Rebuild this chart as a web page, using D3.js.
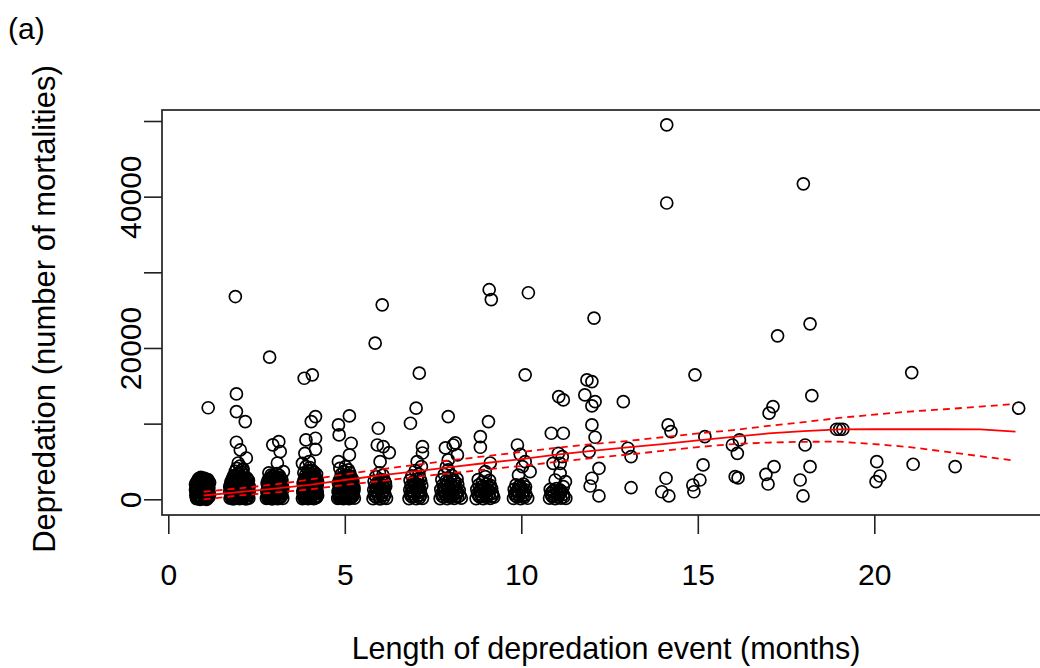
<!DOCTYPE html>
<html>
<head>
<meta charset="utf-8">
<script src="https://cdn.jsdelivr.net/npm/d3@7"></script>
<style>
  body { margin: 0; background: #fff; }
  text { font-family: "Liberation Sans", Arial, sans-serif; fill: #000; }
</style>
</head>
<body>
<svg id="chart" width="1040" height="668"></svg>
<script>
// events of 1-5 months: [length (jittered), mortalities]
var shortEvents = [
  [0.80,100],[0.88,250],[0.96,80],[1.04,200],[1.11,120],[0.84,600],[0.92,450],[1.00,700],[1.08,520],[0.79,900],
  [0.87,1050],[0.95,850],[1.03,1150],[1.10,950],[0.82,1400],[0.90,1600],[0.98,1300],[1.06,1550],[1.12,1450],[0.85,1950],
  [0.93,2100],[1.01,1850],[1.09,2050],[0.81,2300],[0.89,2600],[0.97,2450],[1.05,2700],[0.92,2900],[1.00,2800],[1.08,2550],
  [0.86,2750],[1.13,12100],
  [0.84,350],[1.00,380],[1.08,300],[0.92,800],[1.02,1300],[0.86,1200],[0.96,1750],[1.12,1800],[0.83,2050],[1.04,2350],
  [0.95,2650],[1.11,2300],[0.79,1650],[0.90,0],[1.08,0],
  [0.82,180],[0.94,150],[1.06,120],[0.88,550],[0.99,580],[1.12,650],[0.83,1000],[0.99,1000],[1.08,1200],[0.88,1350],
  [0.94,1450],[1.10,1650],[0.89,1800],[1.06,1900],[0.91,2300],[0.99,2150],[1.12,2600],[0.84,2500],[0.98,2700],[1.13,2100],
  [1.15,900],[0.78,500],[1.15,1500],[1.15,300],[1.17,2200],[1.17,600],[0.77,1250],[0.77,2000],
  [1.75,150],[1.84,60],[1.93,220],[2.02,90],[2.11,180],[2.20,50],[2.28,140],[1.78,600],[1.88,450],[1.97,700],
  [2.06,520],[2.15,650],[2.25,480],[1.74,1000],[1.83,1150],[1.92,900],[2.01,1100],[2.10,950],[2.19,1200],[2.29,1000],
  [1.79,1550],[1.89,1400],[1.98,1650],[2.07,1500],[2.16,1600],[2.26,1450],[1.76,2000],[1.86,2150],[1.95,1900],[2.04,2100],
  [2.13,2000],[2.23,2200],[1.81,2600],[1.91,2500],[2.00,2750],[2.09,2550],[2.18,2650],[2.27,2500],[1.85,3100],[1.96,3300],
  [2.05,3000],[2.14,3200],[1.90,3700],[2.08,3600],[1.94,4100],[2.03,4400],[2.12,4000],[1.98,4800],[2.21,5460],[2.04,6520],
  [1.93,7540],[2.18,10270],[1.93,11590],[1.93,13930],[1.90,26800],
  [1.80,300],[1.98,350],[2.16,330],[2.24,800],[1.86,800],[2.05,800],[1.78,1300],[1.96,1300],[2.14,1350],[1.84,1800],
  [2.02,1800],[2.20,1800],[1.78,2350],[1.96,2350],[2.14,2350],[2.22,2850],[1.92,2950],[1.99,3500],[2.10,3900],
  [1.79,200],[1.89,150],[2.07,150],[2.24,200],[1.83,550],[2.01,600],[2.20,600],[1.79,850],[1.97,1000],[2.15,1000],
  [1.88,1250],[2.06,1250],[2.24,1250],[1.74,1650],[1.93,1650],[2.11,1700],[2.29,1700],[1.81,2050],[2.00,2000],[2.18,2100],
  [1.87,2400],[2.06,2400],[2.24,2650],[1.83,2850],[2.03,2950],[2.12,2800],
  [2.78,120],[2.86,300],[2.94,60],[3.02,220],[3.10,90],[3.18,250],[3.24,110],[2.81,650],[2.90,500],[2.98,800],
  [3.06,580],[3.14,720],[3.22,540],[2.79,1100],[2.87,950],[2.96,1250],[3.04,1000],[3.12,1200],[3.21,1050],[2.83,1600],
  [2.92,1450],[3.00,1700],[3.08,1500],[3.16,1650],[3.24,1550],[2.80,2100],[2.89,2250],[2.97,2000],[3.05,2200],[3.13,2100],
  [3.20,2300],[2.85,2700],[2.94,2550],[3.02,2850],[3.10,2650],[3.18,2800],[2.91,3200],[3.07,3400],[2.95,2990],[3.26,3650],
  [3.09,4800],[3.17,6300],[2.96,7200],[3.13,7620],[2.87,18790],
  [2.82,350],[3.00,400],[3.16,380],[2.86,850],[3.04,850],[3.20,800],[2.84,1350],[3.02,1300],[3.18,1350],[2.88,1900],
  [3.06,1850],[3.22,1900],[2.82,2450],[3.00,2400],[3.16,2450],[2.98,3100],[3.14,3150],[2.85,3500],
  [2.82,200],[2.98,150],[3.14,200],[2.92,650],[3.10,600],[2.81,850],[2.96,1050],[3.16,1000],[2.90,1250],[3.08,1250],
  [3.24,1250],[2.86,1700],[3.04,1650],[3.20,1700],[2.93,2050],[3.10,2050],[2.86,2300],[3.06,2500],[3.22,2550],[2.92,2800],
  [3.09,2950],
  [3.80,100],[3.88,280],[3.96,70],[4.04,230],[4.12,100],[4.20,260],[3.83,650],[3.92,480],[4.00,760],[4.08,560],
  [4.16,700],[4.23,500],[3.81,1100],[3.90,950],[3.98,1250],[4.06,1050],[4.14,1200],[4.22,1000],[3.85,1600],[3.94,1450],
  [4.02,1700],[4.10,1500],[4.18,1650],[3.82,2100],[3.91,2250],[3.99,2000],[4.07,2250],[4.15,2100],[4.23,2300],[3.86,2700],
  [3.95,2550],[4.03,2850],[4.11,2650],[4.19,2750],[3.89,3200],[4.05,3400],[3.97,3800],[4.13,3600],[4.01,4200],[3.80,4760],
  [3.90,4310],[3.99,4970],[3.87,6080],[3.90,7850],[4.17,6610],[4.17,8070],[4.05,10270],[4.17,10930],[3.85,16000],[4.08,16450],
  [3.84,380],[4.00,400],[4.18,380],[3.86,850],[4.04,850],[4.20,800],[3.88,1350],[4.04,1400],[4.20,1350],[3.90,1850],
  [4.06,1900],[4.22,1900],[3.84,2450],[4.02,2400],[4.18,2450],[3.97,3050],[4.15,3100],[3.84,3500],[4.08,3800],
  [3.84,200],[4.00,150],[4.16,200],[3.90,650],[4.10,650],[3.82,850],[3.98,1050],[4.16,1000],[3.92,1250],[4.10,1250],
  [3.86,1750],[4.04,1650],[4.20,1700],[3.94,2050],[4.12,2050],[3.88,2350],[4.06,2550],[4.22,2550],[3.92,2800],[4.10,2950],
  [3.99,3300],[4.20,3300],
  [4.80,120],[4.88,300],[4.96,80],[5.04,240],[5.12,100],[5.20,270],[5.27,150],[4.83,650],[4.92,500],[5.00,780],
  [5.08,560],[5.16,700],[5.24,520],[4.81,1100],[4.89,950],[4.97,1250],[5.05,1050],[5.13,1200],[5.21,1000],[4.85,1600],
  [4.94,1450],[5.02,1700],[5.10,1500],[5.18,1650],[5.26,1550],[4.82,2100],[4.91,2250],[4.99,2000],[5.07,2200],[5.15,2100],
  [5.23,2300],[4.87,2700],[4.95,2550],[5.03,2850],[5.11,2650],[5.19,2800],[4.90,3300],[5.06,3150],[4.98,3700],[5.14,3500],
  [4.86,4100],[5.02,4310],[4.82,4970],[5.13,5860],[5.18,7410],[4.84,8510],[4.82,9830],[5.13,11020],
  [4.84,380],[5.00,400],[5.18,380],[4.86,850],[5.04,850],[5.20,800],[4.88,1350],[5.04,1400],[5.20,1350],[4.90,1850],
  [5.06,1900],[5.22,1900],[4.84,2450],[5.02,2400],[5.18,2450],[4.99,3100],[5.16,3050],[5.10,3900],
  [4.84,200],[5.00,150],[5.16,200],[4.92,650],[5.10,650],[5.24,700],[4.82,850],[4.98,1050],[5.16,1000],[4.92,1250],
  [5.10,1250],[5.26,1200],[4.86,1750],[5.04,1650],[5.22,1700],[4.94,2050],[5.12,2050],[4.88,2350],[5.06,2550],[5.22,2600],
  [4.92,2850],[5.10,2950]
];

// events of 6-11 months
var midEvents = [
  [5.80,80],[5.90,250],[6.00,60],[6.10,200],[6.18,120],[5.84,700],[5.95,500],[6.05,800],[6.14,600],[5.82,1250],
  [5.92,1100],[6.02,1350],[6.12,1150],[5.86,1800],[5.97,1650],[6.07,1900],[6.16,1750],[5.83,2400],[5.93,2250],[6.03,2600],
  [6.13,2400],[5.88,3000],[6.08,3200],[5.98,3500],[6.00,4970],[6.26,6170],[6.09,6960],[5.92,7180],[5.95,9390],[5.86,20640],
  [6.06,25700],[5.85,400],[6.05,450],[5.88,1000],[6.08,1050],[5.90,1500],[6.10,1500],[5.95,2000],[6.15,2100],
  [6.82,100],[6.92,280],[7.02,70],[7.12,220],[7.20,130],[6.86,700],[6.96,520],[7.06,820],[7.16,600],[6.84,1250],
  [6.94,1100],[7.04,1400],[7.14,1200],[6.88,1850],[6.98,1700],[7.08,1950],[7.18,1800],[6.85,2500],[6.95,2350],[7.05,2650],
  [7.15,2450],[6.90,3100],[7.10,3300],[7.00,3800],[7.05,4970],[7.17,4310],[7.20,6120],[7.20,6960],[6.86,10050],[7.02,12040],
  [7.11,16670],[6.88,400],[7.08,450],[6.90,1000],[7.10,950],[6.90,1550],[7.10,1550],[7.00,2150],[7.12,2750],
  [7.70,100],[7.80,300],[7.90,80],[8.00,250],[8.10,120],[8.20,300],[8.30,150],[7.74,750],[7.85,550],[7.96,850],
  [8.06,600],[8.16,780],[8.26,500],[7.72,1300],[7.83,1150],[7.94,1450],[8.04,1250],[8.14,1400],[8.24,1200],[7.78,1900],
  [7.89,1750],[8.00,2050],[8.10,1850],[8.20,2000],[7.75,2600],[7.87,2450],[7.98,2750],[8.08,2550],[8.18,2700],[7.82,3300],
  [8.03,3150],[7.93,3900],[7.88,4310],[7.93,5200],[8.19,5860],[7.85,6790],[8.07,7180],[8.13,7450],[7.93,10930],
  [7.76,400],[7.95,450],[8.15,420],[7.80,1000],[8.00,1000],[8.20,950],[7.82,1600],[8.05,1600],[7.92,2300],[8.12,2300],
  [8.72,100],[8.82,300],[8.92,80],[9.02,250],[9.12,120],[9.22,280],[8.76,750],[8.87,550],[8.98,850],[9.08,620],
  [9.18,780],[8.74,1300],[8.85,1150],[8.96,1450],[9.06,1250],[9.16,1400],[8.80,1900],[8.91,1750],[9.02,2050],[9.12,1850],
  [8.78,2600],[8.98,2990],[9.10,2500],[8.98,3650],[9.12,4800],[8.84,6880],[8.84,8280],[9.07,10270],[9.15,26400],[9.09,27700],
  [8.80,450],[9.00,500],[9.18,450],[8.82,1050],[9.02,1050],[8.86,1600],[9.10,1600],[8.90,2300],
  [9.78,120],[9.88,320],[9.98,80],[10.08,260],[10.18,140],[9.82,750],[9.93,580],[10.03,850],[10.13,620],[9.80,1300],
  [9.90,1150],[10.00,1450],[10.10,1250],[9.85,1900],[9.96,1800],[10.06,2000],[10.25,3650],[9.92,3200],[10.03,4310],[10.11,4970],
  [9.97,5950],[9.89,7180],[10.11,16450],[10.20,27300],
  [9.84,450],[10.04,480],[9.86,1000],[10.06,1050],[9.92,1600],[10.12,1650],
  [10.80,150],[10.88,340],[10.96,100],[11.04,280],[11.12,150],[11.20,300],[11.26,120],[10.84,790],[10.93,600],[11.02,900],
  [11.10,790],[11.19,650],[10.82,1300],[10.91,1150],[11.00,1400],[11.09,1250],[11.19,1670],[10.96,2550],[11.25,2330],[11.10,3440],
  [10.90,4760],[11.10,4760],[11.05,6080],[11.16,5640],[10.85,8730],[11.19,8730],[11.19,13140],[11.06,13570],
  [10.86,500],[11.06,550],[10.88,1000],[11.14,1050]
];

// events of 12-24 months
var longEvents = [
  [12.06,23950],[11.86,15780],[12.00,15560],[11.80,13800],[12.09,12900],[12.00,12340],[12.00,9830],[12.09,8200],
  [11.92,6300],[12.20,4100],[12.00,2780],[11.95,1760],[12.20,440],
  [12.89,12900],[13.02,6750],[13.11,5640],[13.11,1530],
  [14.12,49500],[14.12,39160],[14.16,9830],[14.24,8950],[14.10,2780],[13.98,1000],[14.18,440],
  [14.92,16450],[15.20,8280],[15.15,4540],[15.06,2550],[14.86,1890],[14.89,1000],
  [15.98,7180],[16.18,7850],[16.12,6080],[16.06,2990],[16.14,2820],
  [17.26,21600],[17.13,12250],[17.02,11380],[17.16,4310],[16.93,3300],[16.99,2020],
  [17.99,41700],[18.18,23190],[18.23,13700],[18.04,7180],[18.18,4310],[17.90,2550],[17.98,440],
  [18.93,9260],[19.02,9260],[19.11,9260],
  [20.07,4970],[20.16,3080],[20.05,2330],
  [21.06,16750],[21.10,4630],
  [22.29,4310],
  [24.09,12040]
];

// fitted trend with upper / lower bands
var fitX   = [1, 2, 3, 4, 5, 6, 7, 8, 9, 10, 11, 12, 13, 14, 15, 16, 17, 18, 19, 20, 21, 22, 23, 24];
var fitMid = [500, 950, 1400, 1900, 2550, 3150, 3700, 4250, 4800, 5300, 5900, 6400, 6850, 7300, 7800, 8250, 8700, 9000, 9250, 9260, 9260, 9260, 9230, 8950];
var fitHi  = [1000, 1450, 1950, 2600, 3300, 3950, 4550, 5150, 5700, 6250, 6800, 7300, 7700, 8200, 8700, 9150, 9700, 10200, 10750, 11200, 11600, 11900, 12250, 12600];
var fitLo  = [0, 500, 900, 1300, 1900, 2400, 2950, 3450, 3950, 4400, 4950, 5450, 5900, 6400, 6900, 7300, 7500, 7600, 7620, 7300, 6900, 6300, 5700, 5100];

var xTicks = [0, 5, 10, 15, 20];
var yTicks = [0, 10000, 20000, 30000, 40000, 50000];
var yTickLabels = ["0", "", "20000", "", "40000", ""];

var box = {left: 162, top: 110, right: 1046, bottom: 515};

var svg = d3.select("#chart");

var x = d3.scaleLinear()
          .domain([0, 24])
          .range([168.3, 168.3 + 24 * 35.3]);

var y = d3.scaleLinear()
          .domain([0, 50000])
          .range([499.3, 121]);

//points
var allPoints = shortEvents.concat(midEvents, longEvents);

svg.append("g")
   .selectAll("circle")
   .data(allPoints)
   .enter()
   .append("circle")
   .attr("cx", function(d) { return x(d[0]); })
   .attr("cy", function(d) { return y(d[1]); })
   .attr("r", 6)
   .attr("fill", "none")
   .attr("stroke", "#000")
   .attr("stroke-width", 1.7);

//fit lines
function bandLine(vals) {
    return d3.line()
             .x(function(d, i) { return x(fitX[i]); })
             .y(function(d) { return y(d); })(vals);
}

svg.append("path")
   .attr("d", bandLine(fitMid))
   .attr("fill", "none")
   .attr("stroke", "#ff0000")
   .attr("stroke-width", 1.8);

[fitHi, fitLo].forEach(function(vals) {
    svg.append("path")
       .attr("d", bandLine(vals))
       .attr("fill", "none")
       .attr("stroke", "#ff0000")
       .attr("stroke-width", 1.8)
       .attr("stroke-dasharray", "7,5");
});

//box
svg.append("rect")
   .attr("x", box.left)
   .attr("y", box.top)
   .attr("width", box.right - box.left)
   .attr("height", box.bottom - box.top)
   .attr("fill", "none")
   .attr("stroke", "#222")
   .attr("stroke-width", 1.7);

//axes
var xAxis = svg.append("g")
               .attr("transform", "translate(0," + box.bottom + ")")
               .call(d3.axisBottom(x)
                       .tickValues(xTicks)
                       .tickSize(19)
                       .tickPadding(30)
                       .tickFormat(d3.format("d")));

var yAxis = svg.append("g")
               .attr("transform", "translate(" + box.left + ",0)")
               .call(d3.axisLeft(y)
                       .tickValues(yTicks)
                       .tickSize(18)
                       .tickFormat(function(d, i) { return yTickLabels[i]; }));

[xAxis, yAxis].forEach(function(g) {
    g.select(".domain").remove();
    g.selectAll(".tick line").attr("stroke", "#222").attr("stroke-width", 1.6);
    g.selectAll(".tick text")
     .attr("fill", "#000")
     .style("font-family", "'Liberation Sans', Arial, sans-serif")
     .style("font-size", "30px");
});

yAxis.selectAll(".tick text")
     .attr("transform", "rotate(-90)")
     .attr("x", 0)
     .attr("y", -21)
     .attr("dy", 0)
     .attr("text-anchor", "middle");

//labels
svg.append("text")
   .attr("x", 606)
   .attr("y", 659)
   .attr("text-anchor", "middle")
   .style("font-size", "30.5px")
   .text("Length of depredation event (months)");

svg.append("text")
   .attr("transform", "translate(55,309) rotate(-90)")
   .attr("text-anchor", "middle")
   .style("font-size", "31px")
   .text("Depredation (number of mortalities)");

svg.append("text")
   .attr("x", 8)
   .attr("y", 39)
   .style("font-size", "30px")
   .text("(a)");
</script>
</body>
</html>
